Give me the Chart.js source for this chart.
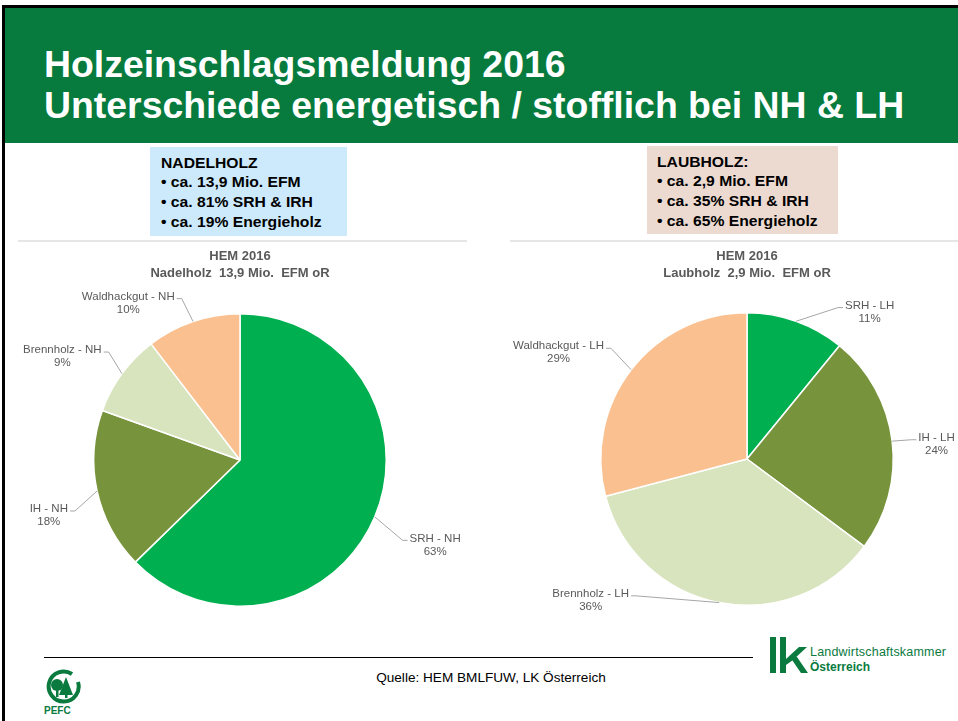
<!DOCTYPE html>
<html lang="de">
<head>
<meta charset="utf-8">
<title>Holzeinschlagsmeldung 2016</title>
<script src="https://cdn.jsdelivr.net/npm/chart.js@4.4.1/dist/chart.umd.min.js"></script>
<style>
  html, body { margin: 0; padding: 0; }
  body {
    width: 958px; height: 721px; position: relative; overflow: hidden;
    background: #fff; font-family: "Liberation Sans", Arial, sans-serif;
  }
  .abs { position: absolute; }
  .frame-left { left: 2px; top: 5px; width: 3px; height: 716px; background: #000; }
  .frame-top { left: 2px; top: 5px; width: 956px; height: 3px; background: #000; }
  .header { left: 5px; top: 8px; width: 953px; height: 135px; background: #077a3d; }
  .title {
    left: 44px; top: 43.5px; color: #fff; font-weight: bold; font-size: 37.4px;
    line-height: 41px; white-space: nowrap;
  }
  .box-nh { left: 150px; top: 147px; width: 197px; height: 89px; background: #cdeafd; }
  .box-lh { left: 647px; top: 146px; width: 191px; height: 88px; background: #ecdad0; }
  .box-text {
    font-weight: bold; font-size: 14px; line-height: 19.8px; color: #000;
    white-space: nowrap; transform: scaleX(1.12); transform-origin: left top;
  }
  .sep { top: 240px; height: 2px; background: #e6e6e6; }
  canvas { position: absolute; }
  .rule { left: 44px; top: 657px; width: 709px; height: 1px; background: #000; }
  .source {
    left: 291px; width: 400px; top: 670px; text-align: center; font-size: 13.6px;
    line-height: 16px; color: #000;
  }
  .lk-text { left: 810px; color: #0b7a3e; white-space: nowrap; }
</style>
</head>
<body>
<div class="abs header"></div>
<div class="abs frame-top"></div>
<div class="abs frame-left"></div>
<div class="abs title">Holzeinschlagsmeldung 2016<br>Unterschiede energetisch / stofflich bei NH &amp; LH</div>

<div class="abs box-nh"></div>
<div class="abs box-text" style="left:161px; top:153.5px;">NADELHOLZ<br>• ca. 13,9 Mio. EFM<br>• ca. 81% SRH &amp; IRH<br>• ca. 19% Energieholz</div>
<div class="abs box-lh"></div>
<div class="abs box-text" style="left:657px; top:152.5px;">LAUBHOLZ:<br>• ca. 2,9 Mio. EFM<br>• ca. 35% SRH &amp; IRH<br>• ca. 65% Energieholz</div>

<div class="abs sep" style="left:18px; width:449px;"></div>
<div class="abs sep" style="left:510px; width:448px;"></div>

<canvas id="pieNH" width="470" height="377" style="left:10px; top:243px;"></canvas>
<canvas id="pieLH" width="458" height="377" style="left:500px; top:243px;"></canvas>

<div class="abs rule"></div>
<div class="abs source">Quelle: HEM BMLFUW, LK Österreich</div>

<svg class="abs" style="left:766px; top:634px;" width="44" height="42">
  <rect x="4" y="3" width="6" height="36" fill="#0b7a3e"/>
  <rect x="14" y="3" width="6" height="36" fill="#0b7a3e"/>
  <polygon points="20,25 33,13 41,13 27,26 20,31" fill="#0b7a3e"/>
  <polygon points="24,23 31,23 42,39 35,39" fill="#0b7a3e"/>
</svg>
<div class="abs lk-text" style="top:645px; font-size:12.5px; letter-spacing:0.2px;">Landwirtschaftskammer</div>
<div class="abs lk-text" style="top:660px; font-size:12px; font-weight:bold;">Österreich</div>

<svg class="abs" style="left:42px; top:668px;" width="44" height="52">
  <path d="M 30 6 A 15 15 0 1 0 36 14" fill="none" stroke="#0b7a3e" stroke-width="4"/>
  <circle cx="15" cy="17" r="6" fill="#0b7a3e"/>
  <rect x="14" y="21" width="2.5" height="8" fill="#0b7a3e"/>
  <polygon points="24,9 31,27 17,27" fill="#0b7a3e"/>
  <rect x="23" y="26" width="2.5" height="4" fill="#0b7a3e"/>
  <text x="2" y="46" font-family="Liberation Sans, Arial, sans-serif" font-weight="bold" font-size="10" fill="#0b7a3e">PEFC</text>
</svg>

<script>
// Nadelholz (NH) - shares in % of 13,9 Mio. EFM
const categoriesNH = ['SRH - NH', 'IH - NH', 'Brennholz - NH', 'Waldhackgut - NH'];
const sharesNH = [62.7, 17.8, 9.1, 10.4];
const titleNH = ['HEM 2016', 'Nadelholz  13,9 Mio.  EFM oR'];

// Laubholz (LH) - shares in % of 2,9 Mio. EFM
const categoriesLH = ['SRH - LH', 'IH - LH', 'Brennholz - LH', 'Waldhackgut - LH'];
const sharesLH = [10.9, 24.3, 35.7, 29.1];
const titleLH = ['HEM 2016', 'Laubholz  2,9 Mio.  EFM oR'];

const sliceColors = ['#00b050', '#77933c', '#d7e4bd', '#fac090'];

// label placement tweaks (like excel "best fit"), px relative to radial anchor
const labelNudgeNH = [[-2, 12.5], [10, 16], [12, 6.5], [-5.5, 19.5]];
const labelNudgeLH = [[35.5, 28.5], [-13.5, 8], [-82.5, -41.5], [4.5, 7.5]];

Chart.defaults.font.family = '"Liberation Sans", Arial, sans-serif';

// data labels outside the pie with leader lines
const outsideLabels = {
  id: 'outsideLabels',
  afterDatasetsDraw(chart, args, opts) {
    const ctx = chart.ctx;
    const meta = chart.getDatasetMeta(0);
    const values = chart.data.datasets[0].data;
    const total = values.reduce((a, b) => a + b, 0);
    ctx.save();
    ctx.font = opts.font;
    meta.data.forEach((arc, i) => {
      const { x, y, startAngle, endAngle, outerRadius } =
        arc.getProps(['x', 'y', 'startAngle', 'endAngle', 'outerRadius'], true);
      const mid = (startAngle + endAngle) / 2;
      const cos = Math.cos(mid);
      const sin = Math.sin(mid);
      const edgeX = x + cos * outerRadius;
      const edgeY = y + sin * outerRadius;
      const nudge = opts.nudge[i] || [0, 0];
      const ax = x + cos * (outerRadius + opts.gap) + nudge[0];
      const ay = y + sin * (outerRadius + opts.gap) + nudge[1];
      const lines = [chart.data.labels[i], Math.round(values[i] / total * 100) + '%'];
      const w = Math.max(...lines.map((l) => ctx.measureText(l).width));
      const onRight = cos >= 0;
      const cx = onRight ? ax + w / 2 : ax - w / 2;
      const y1 = ay - opts.lineHeight / 2;

      const sx = onRight ? ax - 2 : ax + 2;
      const sy = y1 + 2;
      const stubX = onRight ? sx - 5 : sx + 5;
      ctx.strokeStyle = opts.lineColor;
      ctx.lineWidth = 1;
      ctx.beginPath();
      ctx.moveTo(sx, sy);
      ctx.lineTo(stubX, sy);
      ctx.lineTo(edgeX, edgeY);
      ctx.stroke();

      ctx.fillStyle = opts.color;
      ctx.textAlign = 'center';
      ctx.textBaseline = 'middle';
      lines.forEach((l, k) => ctx.fillText(l, cx, y1 + k * opts.lineHeight));
    });
    ctx.restore();
  },
};

function makePie(canvasId, labels, values, title, padding, titleBottom, nudge) {
  return new Chart(document.getElementById(canvasId), {
    type: 'pie',
    data: {
      labels,
      datasets: [{
        data: values,
        backgroundColor: sliceColors,
        borderColor: '#ffffff',
        borderWidth: 1.5,
      }],
    },
    options: {
      responsive: false,
      animation: false,
      devicePixelRatio: 1,
      layout: { padding },
      plugins: {
        legend: { display: false },
        tooltip: { enabled: false },
        title: {
          display: true,
          text: title,
          color: '#595959',
          font: { size: 13, weight: 'bold', lineHeight: 17 / 13 },
          padding: { top: 4.5, bottom: titleBottom },
        },
        outsideLabels: {
          font: '11.5px "Liberation Sans", Arial, sans-serif',
          color: '#595959',
          lineColor: '#a6a6a6',
          lineHeight: 13,
          gap: 40,
          nudge,
        },
      },
    },
    plugins: [outsideLabels],
  });
}

makePie('pieNH', categoriesNH, sharesNH, titleNH,
  { left: 83, right: 93, top: 0, bottom: 13 }, 31.5, labelNudgeNH);
makePie('pieLH', categoriesLH, sharesLH, titleLH,
  { left: 100, right: 64, top: 0, bottom: 14 }, 30.5, labelNudgeLH);
</script>
</body>
</html>
